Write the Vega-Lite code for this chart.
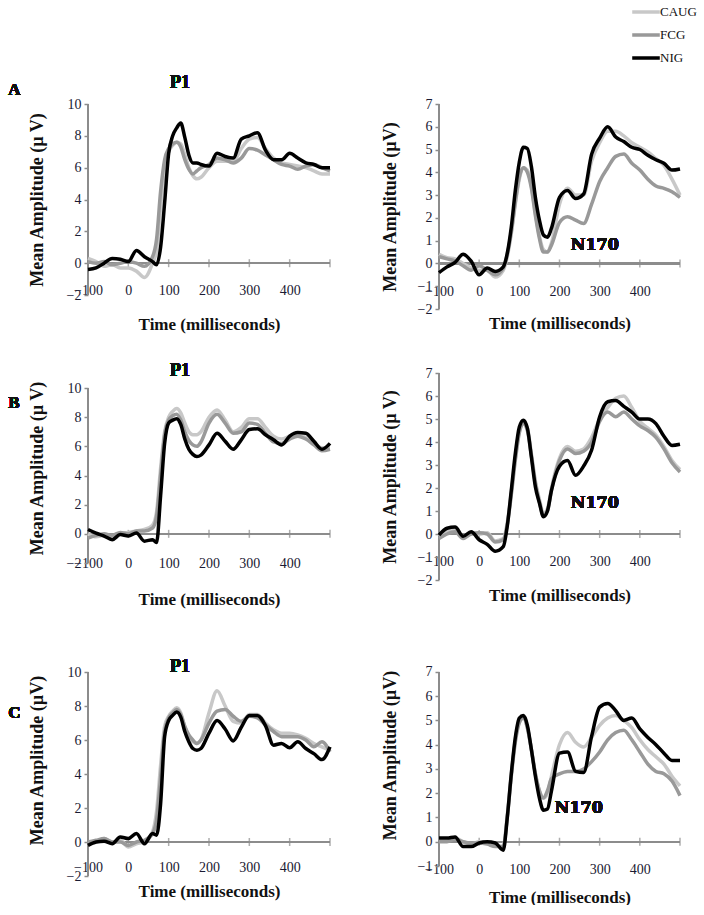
{
  "$schema": "https://vega.github.io/schema/vega-lite/v6.json",
  "background": "white",
  "padding": {"left": 8, "top": -4, "right": 0, "bottom": 0},
  "config": {
    "view": {"stroke": null},
    "font": "Liberation Serif",
    "axis": {"grid": false, "labelOverlap": false, "labelFont": "Liberation Serif", "labelFontSize": 14, "labelColor": "#1a1a33", "titleFont": "Liberation Serif", "titleFontWeight": "bold", "titleColor": "#111", "domainColor": "#8c8c8c", "domainWidth": 1.5, "tickColor": "#8c8c8c", "tickWidth": 1.5},
    "axisX": {"domain": false, "ticks": false, "labelFlush": false, "titleFontSize": 17},
    "axisY": {"domain": false, "tickSize": 4, "labelPadding": 3, "titleFontSize": 18},
    "text": {"font": "Liberation Serif", "fontWeight": "bold", "fill": "#111"},
    "rule": {"color": "#8c8c8c", "strokeWidth": 1.5},
    "line": {"interpolate": "monotone"},
    "tick": {"color": "#8c8c8c", "thickness": 1.5, "size": 8, "orient": "vertical"}
  },
  "datasets": {
    "aL": [
      {"t": -100, "CAUG": 0.3, "FCG": 0.1, "NIG": -0.4},
      {"t": -80, "CAUG": 0.1, "FCG": 0.0, "NIG": -0.3},
      {"t": -60, "CAUG": -0.2, "FCG": 0.1, "NIG": 0.0},
      {"t": -40, "CAUG": -0.1, "FCG": -0.1, "NIG": 0.3},
      {"t": -20, "CAUG": -0.3, "FCG": 0.0, "NIG": 0.25},
      {"t": 0, "CAUG": -0.3, "FCG": 0.1, "NIG": 0.1},
      {"t": 20, "CAUG": -0.5, "FCG": 0.0, "NIG": 0.8},
      {"t": 40, "CAUG": -0.9, "FCG": -0.2, "NIG": 0.4},
      {"t": 60, "CAUG": 0.0, "FCG": 0.4, "NIG": 0.1},
      {"t": 70, "CAUG": 0.8, "FCG": 1.5, "NIG": -0.1},
      {"t": 80, "CAUG": 3.5, "FCG": 4.5, "NIG": 1.0},
      {"t": 90, "CAUG": 6.0, "FCG": 6.5, "NIG": 3.8},
      {"t": 100, "CAUG": 7.0, "FCG": 7.2, "NIG": 6.9},
      {"t": 110, "CAUG": 7.4, "FCG": 7.5, "NIG": 8.0},
      {"t": 120, "CAUG": 7.6, "FCG": 7.6, "NIG": 8.5},
      {"t": 130, "CAUG": 7.5, "FCG": 7.3, "NIG": 8.8},
      {"t": 140, "CAUG": 6.8, "FCG": 6.5, "NIG": 7.9},
      {"t": 150, "CAUG": 6.0, "FCG": 5.9, "NIG": 6.8},
      {"t": 160, "CAUG": 5.5, "FCG": 5.6, "NIG": 6.3},
      {"t": 170, "CAUG": 5.3, "FCG": 5.8, "NIG": 6.3},
      {"t": 180, "CAUG": 5.4, "FCG": 6.0, "NIG": 6.2},
      {"t": 200, "CAUG": 6.0, "FCG": 6.2, "NIG": 6.1},
      {"t": 220, "CAUG": 6.4, "FCG": 6.6, "NIG": 6.9},
      {"t": 240, "CAUG": 6.4, "FCG": 6.5, "NIG": 6.7},
      {"t": 260, "CAUG": 6.4, "FCG": 6.3, "NIG": 6.6},
      {"t": 280, "CAUG": 7.2, "FCG": 6.6, "NIG": 7.8},
      {"t": 300, "CAUG": 7.8, "FCG": 7.2, "NIG": 8.0},
      {"t": 320, "CAUG": 7.9, "FCG": 7.1, "NIG": 8.2},
      {"t": 340, "CAUG": 7.2, "FCG": 6.8, "NIG": 7.1},
      {"t": 360, "CAUG": 6.6, "FCG": 6.5, "NIG": 6.5},
      {"t": 380, "CAUG": 6.3, "FCG": 6.2, "NIG": 6.5},
      {"t": 400, "CAUG": 6.2, "FCG": 6.1, "NIG": 6.9},
      {"t": 420, "CAUG": 6.1, "FCG": 5.9, "NIG": 6.6},
      {"t": 440, "CAUG": 6.0, "FCG": 6.1, "NIG": 6.3},
      {"t": 460, "CAUG": 5.8, "FCG": 6.2, "NIG": 6.2},
      {"t": 480, "CAUG": 5.6, "FCG": 6.0, "NIG": 6.0},
      {"t": 500, "CAUG": 5.6, "FCG": 5.8, "NIG": 6.0}
    ],
    "aR": [
      {"t": -100, "CAUG": 0.4, "FCG": 0.3, "NIG": -0.4},
      {"t": -80, "CAUG": 0.25, "FCG": 0.2, "NIG": -0.15},
      {"t": -60, "CAUG": 0.2, "FCG": 0.1, "NIG": 0.05},
      {"t": -40, "CAUG": 0.0, "FCG": -0.1, "NIG": 0.4},
      {"t": -20, "CAUG": -0.2, "FCG": -0.3, "NIG": 0.1},
      {"t": 0, "CAUG": -0.3, "FCG": -0.1, "NIG": -0.5},
      {"t": 20, "CAUG": -0.3, "FCG": -0.3, "NIG": -0.2},
      {"t": 40, "CAUG": -0.6, "FCG": -0.5, "NIG": -0.35},
      {"t": 60, "CAUG": -0.3, "FCG": -0.2, "NIG": -0.15},
      {"t": 70, "CAUG": 0.3, "FCG": 0.4, "NIG": 0.45},
      {"t": 80, "CAUG": 1.3, "FCG": 1.4, "NIG": 1.6},
      {"t": 90, "CAUG": 2.6, "FCG": 2.7, "NIG": 3.2},
      {"t": 100, "CAUG": 3.7, "FCG": 3.8, "NIG": 4.45},
      {"t": 110, "CAUG": 4.2, "FCG": 4.2, "NIG": 5.1},
      {"t": 120, "CAUG": 4.1, "FCG": 4.0, "NIG": 5.05},
      {"t": 130, "CAUG": 3.4, "FCG": 3.3, "NIG": 4.25},
      {"t": 140, "CAUG": 2.2, "FCG": 2.1, "NIG": 2.9},
      {"t": 150, "CAUG": 1.2, "FCG": 1.1, "NIG": 1.9},
      {"t": 160, "CAUG": 0.6, "FCG": 0.5, "NIG": 1.25},
      {"t": 170, "CAUG": 0.5, "FCG": 0.5, "NIG": 1.15},
      {"t": 180, "CAUG": 0.9, "FCG": 0.8, "NIG": 1.55},
      {"t": 200, "CAUG": 2.6, "FCG": 1.8, "NIG": 2.9},
      {"t": 220, "CAUG": 3.3, "FCG": 2.05, "NIG": 3.2},
      {"t": 240, "CAUG": 3.0, "FCG": 1.9, "NIG": 2.85},
      {"t": 260, "CAUG": 3.0, "FCG": 1.75, "NIG": 3.05},
      {"t": 280, "CAUG": 4.5, "FCG": 2.6, "NIG": 4.8},
      {"t": 300, "CAUG": 5.3, "FCG": 3.6, "NIG": 5.5},
      {"t": 320, "CAUG": 5.8, "FCG": 4.2, "NIG": 6.0},
      {"t": 340, "CAUG": 5.8, "FCG": 4.7, "NIG": 5.55},
      {"t": 360, "CAUG": 5.6, "FCG": 4.8, "NIG": 5.35},
      {"t": 380, "CAUG": 5.3, "FCG": 4.4, "NIG": 5.1},
      {"t": 400, "CAUG": 5.1, "FCG": 4.1, "NIG": 5.0},
      {"t": 420, "CAUG": 4.9, "FCG": 3.7, "NIG": 4.75},
      {"t": 440, "CAUG": 4.6, "FCG": 3.4, "NIG": 4.55},
      {"t": 460, "CAUG": 4.3, "FCG": 3.3, "NIG": 4.4},
      {"t": 480, "CAUG": 3.7, "FCG": 3.15, "NIG": 4.1},
      {"t": 500, "CAUG": 3.0, "FCG": 2.9, "NIG": 4.15}
    ],
    "bL": [
      {"t": -100, "CAUG": 0.0, "FCG": -0.3, "NIG": 0.3},
      {"t": -80, "CAUG": -0.2, "FCG": -0.1, "NIG": 0.05},
      {"t": -60, "CAUG": -0.1, "FCG": 0.0, "NIG": -0.15},
      {"t": -40, "CAUG": -0.2, "FCG": -0.1, "NIG": -0.4},
      {"t": -20, "CAUG": 0.0, "FCG": 0.1, "NIG": -0.05},
      {"t": 0, "CAUG": 0.1, "FCG": 0.0, "NIG": -0.15},
      {"t": 20, "CAUG": 0.2, "FCG": 0.2, "NIG": 0.05},
      {"t": 40, "CAUG": 0.3, "FCG": 0.2, "NIG": -0.5},
      {"t": 60, "CAUG": 0.6, "FCG": 0.4, "NIG": -0.4},
      {"t": 70, "CAUG": 1.5, "FCG": 1.2, "NIG": -0.6},
      {"t": 80, "CAUG": 4.5, "FCG": 4.0, "NIG": 2.6},
      {"t": 90, "CAUG": 7.0, "FCG": 6.8, "NIG": 6.2},
      {"t": 100, "CAUG": 8.0, "FCG": 7.8, "NIG": 7.6},
      {"t": 110, "CAUG": 8.4, "FCG": 8.1, "NIG": 7.8},
      {"t": 120, "CAUG": 8.6, "FCG": 8.2, "NIG": 7.9},
      {"t": 130, "CAUG": 8.3, "FCG": 7.8, "NIG": 7.5},
      {"t": 140, "CAUG": 7.6, "FCG": 7.0, "NIG": 6.5},
      {"t": 150, "CAUG": 7.0, "FCG": 6.4, "NIG": 5.8},
      {"t": 160, "CAUG": 6.8, "FCG": 6.1, "NIG": 5.45},
      {"t": 170, "CAUG": 6.8, "FCG": 6.0, "NIG": 5.3},
      {"t": 180, "CAUG": 7.0, "FCG": 6.3, "NIG": 5.4},
      {"t": 200, "CAUG": 8.0, "FCG": 7.6, "NIG": 6.1},
      {"t": 220, "CAUG": 8.5, "FCG": 8.2, "NIG": 6.9},
      {"t": 240, "CAUG": 7.8, "FCG": 7.6, "NIG": 6.35},
      {"t": 260, "CAUG": 7.0, "FCG": 6.9, "NIG": 5.8},
      {"t": 280, "CAUG": 7.3, "FCG": 7.0, "NIG": 6.45},
      {"t": 300, "CAUG": 7.9, "FCG": 7.6, "NIG": 7.15},
      {"t": 320, "CAUG": 7.9, "FCG": 7.5, "NIG": 7.2},
      {"t": 340, "CAUG": 7.3, "FCG": 6.9, "NIG": 6.8},
      {"t": 360, "CAUG": 6.7, "FCG": 6.3, "NIG": 6.45},
      {"t": 380, "CAUG": 6.5, "FCG": 6.2, "NIG": 6.1},
      {"t": 400, "CAUG": 6.7, "FCG": 6.5, "NIG": 6.7},
      {"t": 420, "CAUG": 6.8, "FCG": 6.7, "NIG": 6.95},
      {"t": 440, "CAUG": 6.6, "FCG": 6.5, "NIG": 6.9},
      {"t": 460, "CAUG": 6.2, "FCG": 6.1, "NIG": 6.35},
      {"t": 480, "CAUG": 5.9, "FCG": 5.7, "NIG": 5.8},
      {"t": 500, "CAUG": 5.9, "FCG": 5.8, "NIG": 6.2}
    ],
    "bR": [
      {"t": -100, "CAUG": -0.1, "FCG": -0.2, "NIG": -0.05},
      {"t": -80, "CAUG": 0.1, "FCG": 0.0, "NIG": 0.25},
      {"t": -60, "CAUG": 0.2, "FCG": 0.1, "NIG": 0.3},
      {"t": -40, "CAUG": -0.1, "FCG": -0.2, "NIG": -0.1},
      {"t": -20, "CAUG": 0.0, "FCG": 0.0, "NIG": 0.1},
      {"t": 0, "CAUG": 0.0, "FCG": 0.05, "NIG": -0.25},
      {"t": 20, "CAUG": 0.05, "FCG": 0.0, "NIG": -0.45},
      {"t": 40, "CAUG": -0.3, "FCG": -0.35, "NIG": -0.75},
      {"t": 60, "CAUG": -0.2, "FCG": -0.25, "NIG": -0.55},
      {"t": 70, "CAUG": 0.5, "FCG": 0.4, "NIG": 0.35},
      {"t": 80, "CAUG": 1.8, "FCG": 1.7, "NIG": 1.9},
      {"t": 90, "CAUG": 3.3, "FCG": 3.2, "NIG": 3.5},
      {"t": 100, "CAUG": 4.5, "FCG": 4.4, "NIG": 4.65},
      {"t": 110, "CAUG": 4.85, "FCG": 4.8, "NIG": 4.95},
      {"t": 120, "CAUG": 4.6, "FCG": 4.5, "NIG": 4.6},
      {"t": 130, "CAUG": 3.5, "FCG": 3.4, "NIG": 3.35},
      {"t": 140, "CAUG": 2.3, "FCG": 2.2, "NIG": 2.05},
      {"t": 150, "CAUG": 1.5, "FCG": 1.4, "NIG": 1.35},
      {"t": 160, "CAUG": 0.9, "FCG": 0.8, "NIG": 0.75},
      {"t": 170, "CAUG": 1.1, "FCG": 1.0, "NIG": 1.0},
      {"t": 180, "CAUG": 2.0, "FCG": 1.9, "NIG": 1.9},
      {"t": 200, "CAUG": 3.3, "FCG": 3.2, "NIG": 2.95},
      {"t": 220, "CAUG": 3.8, "FCG": 3.7, "NIG": 3.2},
      {"t": 240, "CAUG": 3.6, "FCG": 3.5, "NIG": 2.55},
      {"t": 260, "CAUG": 3.7, "FCG": 3.6, "NIG": 2.95},
      {"t": 280, "CAUG": 4.2, "FCG": 4.0, "NIG": 3.65},
      {"t": 300, "CAUG": 5.0, "FCG": 4.9, "NIG": 5.1},
      {"t": 320, "CAUG": 5.5, "FCG": 5.3, "NIG": 5.75},
      {"t": 340, "CAUG": 5.9, "FCG": 5.1, "NIG": 5.8},
      {"t": 360, "CAUG": 6.0, "FCG": 5.3, "NIG": 5.55},
      {"t": 380, "CAUG": 5.5, "FCG": 5.0, "NIG": 5.3},
      {"t": 400, "CAUG": 4.9, "FCG": 4.7, "NIG": 5.0},
      {"t": 420, "CAUG": 4.6, "FCG": 4.5, "NIG": 5.0},
      {"t": 440, "CAUG": 4.3, "FCG": 4.2, "NIG": 4.8},
      {"t": 460, "CAUG": 3.8, "FCG": 3.7, "NIG": 4.25},
      {"t": 480, "CAUG": 3.2, "FCG": 3.1, "NIG": 3.85},
      {"t": 500, "CAUG": 2.8, "FCG": 2.7, "NIG": 3.9}
    ],
    "cL": [
      {"t": -100, "CAUG": -0.1, "FCG": 0.0, "NIG": -0.2},
      {"t": -80, "CAUG": 0.0, "FCG": 0.1, "NIG": 0.0},
      {"t": -60, "CAUG": 0.2, "FCG": 0.2, "NIG": 0.05},
      {"t": -40, "CAUG": 0.0, "FCG": 0.0, "NIG": -0.1},
      {"t": -20, "CAUG": 0.1, "FCG": 0.0, "NIG": 0.3},
      {"t": 0, "CAUG": -0.3, "FCG": -0.2, "NIG": 0.2},
      {"t": 20, "CAUG": -0.1, "FCG": 0.0, "NIG": 0.5},
      {"t": 40, "CAUG": 0.0, "FCG": 0.1, "NIG": -0.1},
      {"t": 60, "CAUG": 0.6, "FCG": 0.5, "NIG": 0.5},
      {"t": 70, "CAUG": 1.8, "FCG": 1.3, "NIG": 0.4},
      {"t": 80, "CAUG": 4.5, "FCG": 3.8, "NIG": 2.25},
      {"t": 90, "CAUG": 6.8, "FCG": 6.5, "NIG": 6.2},
      {"t": 100, "CAUG": 7.4, "FCG": 7.3, "NIG": 7.15},
      {"t": 110, "CAUG": 7.7, "FCG": 7.6, "NIG": 7.45},
      {"t": 120, "CAUG": 7.9, "FCG": 7.8, "NIG": 7.65},
      {"t": 130, "CAUG": 7.6, "FCG": 7.5, "NIG": 7.35},
      {"t": 140, "CAUG": 6.8, "FCG": 6.8, "NIG": 6.5},
      {"t": 150, "CAUG": 6.2, "FCG": 6.3, "NIG": 5.9},
      {"t": 160, "CAUG": 5.9, "FCG": 6.0, "NIG": 5.5},
      {"t": 170, "CAUG": 5.8, "FCG": 5.8, "NIG": 5.4},
      {"t": 180, "CAUG": 6.0, "FCG": 6.0, "NIG": 5.5},
      {"t": 200, "CAUG": 7.6, "FCG": 7.0, "NIG": 6.4},
      {"t": 220, "CAUG": 8.9, "FCG": 7.7, "NIG": 7.15},
      {"t": 240, "CAUG": 8.0, "FCG": 7.8, "NIG": 6.65},
      {"t": 260, "CAUG": 7.1, "FCG": 7.4, "NIG": 5.95},
      {"t": 280, "CAUG": 7.0, "FCG": 7.1, "NIG": 6.75},
      {"t": 300, "CAUG": 7.5, "FCG": 7.4, "NIG": 7.45},
      {"t": 320, "CAUG": 7.5, "FCG": 7.3, "NIG": 7.45},
      {"t": 340, "CAUG": 7.0, "FCG": 6.9, "NIG": 6.85},
      {"t": 360, "CAUG": 6.6, "FCG": 6.5, "NIG": 5.7},
      {"t": 380, "CAUG": 6.4, "FCG": 6.2, "NIG": 5.8},
      {"t": 400, "CAUG": 6.4, "FCG": 6.2, "NIG": 5.55},
      {"t": 420, "CAUG": 6.3, "FCG": 6.2, "NIG": 5.9},
      {"t": 440, "CAUG": 6.1, "FCG": 6.0, "NIG": 5.5},
      {"t": 460, "CAUG": 5.8, "FCG": 5.6, "NIG": 5.2},
      {"t": 480, "CAUG": 5.6, "FCG": 5.9, "NIG": 4.85},
      {"t": 500, "CAUG": 5.4, "FCG": 5.3, "NIG": 5.6}
    ],
    "cR": [
      {"t": -100, "CAUG": 0.1, "FCG": 0.0, "NIG": 0.15},
      {"t": -80, "CAUG": 0.1, "FCG": 0.0, "NIG": 0.15},
      {"t": -60, "CAUG": 0.15, "FCG": 0.1, "NIG": 0.2},
      {"t": -40, "CAUG": 0.0, "FCG": 0.0, "NIG": -0.2},
      {"t": -20, "CAUG": -0.1, "FCG": -0.05, "NIG": -0.2},
      {"t": 0, "CAUG": 0.0, "FCG": -0.05, "NIG": -0.05},
      {"t": 20, "CAUG": -0.05, "FCG": -0.1, "NIG": 0.0},
      {"t": 40, "CAUG": -0.15, "FCG": -0.2, "NIG": -0.05},
      {"t": 60, "CAUG": -0.2, "FCG": -0.2, "NIG": -0.35},
      {"t": 70, "CAUG": 1.1, "FCG": 1.0, "NIG": 1.0},
      {"t": 80, "CAUG": 2.8, "FCG": 2.7, "NIG": 2.8},
      {"t": 90, "CAUG": 4.2, "FCG": 4.1, "NIG": 4.3},
      {"t": 100, "CAUG": 5.0, "FCG": 4.9, "NIG": 5.1},
      {"t": 110, "CAUG": 5.1, "FCG": 5.1, "NIG": 5.2},
      {"t": 120, "CAUG": 4.7, "FCG": 4.7, "NIG": 4.8},
      {"t": 130, "CAUG": 3.8, "FCG": 3.8, "NIG": 3.8},
      {"t": 140, "CAUG": 2.8, "FCG": 2.8, "NIG": 2.7},
      {"t": 150, "CAUG": 2.1, "FCG": 2.1, "NIG": 1.8},
      {"t": 160, "CAUG": 1.8, "FCG": 1.8, "NIG": 1.3},
      {"t": 170, "CAUG": 2.0, "FCG": 2.1, "NIG": 1.35},
      {"t": 180, "CAUG": 2.7, "FCG": 2.6, "NIG": 2.1},
      {"t": 200, "CAUG": 4.0, "FCG": 2.8, "NIG": 3.65},
      {"t": 220, "CAUG": 4.5, "FCG": 2.9, "NIG": 3.7},
      {"t": 240, "CAUG": 4.1, "FCG": 2.9, "NIG": 2.9},
      {"t": 260, "CAUG": 3.9, "FCG": 3.0, "NIG": 2.85},
      {"t": 280, "CAUG": 4.3, "FCG": 3.3, "NIG": 4.35},
      {"t": 300, "CAUG": 4.8, "FCG": 3.7, "NIG": 5.55},
      {"t": 320, "CAUG": 5.1, "FCG": 4.2, "NIG": 5.7},
      {"t": 340, "CAUG": 5.2, "FCG": 4.5, "NIG": 5.4},
      {"t": 360, "CAUG": 5.0, "FCG": 4.6, "NIG": 5.0},
      {"t": 380, "CAUG": 4.7, "FCG": 4.2, "NIG": 5.1},
      {"t": 400, "CAUG": 4.2, "FCG": 3.7, "NIG": 4.65},
      {"t": 420, "CAUG": 3.8, "FCG": 3.2, "NIG": 4.3},
      {"t": 440, "CAUG": 3.5, "FCG": 2.9, "NIG": 4.0},
      {"t": 460, "CAUG": 3.2, "FCG": 2.8, "NIG": 3.65},
      {"t": 480, "CAUG": 2.7, "FCG": 2.5, "NIG": 3.35},
      {"t": 500, "CAUG": 2.3, "FCG": 1.9, "NIG": 3.35}
    ]
  },
  "concat": [
    {
      "width": 242, "height": 191,
      "data": {"name": "aL"},
      "layer": [
        {"mark": "rule", "encoding": {"y": {"datum": 0}}},
        {"mark": "rule", "encoding": {"x": {"datum": -100}, "y": {"datum": -2}, "y2": {"datum": 10}}},
        {"transform": [{"filter": "datum.t % 100 == 0"}], "mark": "tick", "encoding": {"x": {"field": "t", "type": "quantitative"}, "y": {"datum": 0}}},
        {"transform": [{"fold": ["CAUG", "FCG", "NIG"], "as": ["group", "amp"]}],
         "mark": "line",
         "encoding": {
           "x": {"field": "t", "type": "quantitative", "scale": {"domain": [-100, 500], "nice": false}, "axis": {"values": [-100, 0, 100, 200, 300, 400], "tickCount": 20, "format": "d", "title": "Time (milliseconds)", "labelPadding": -12, "titlePadding": 19}},
           "y": {"field": "amp", "type": "quantitative", "scale": {"domain": [-2, 10], "nice": false, "zero": false}, "axis": {"values": [-2, 0, 2, 4, 6, 8, 10], "tickCount": 20, "format": "d", "title": "Mean Amplitude (µ V)", "titlePadding": 20}},
           "color": {"field": "group", "type": "nominal", "scale": {"domain": ["CAUG", "FCG", "NIG"], "range": ["#c8c8c8", "#999999", "#000000"]}, "legend": null},
           "strokeWidth": {"field": "group", "type": "nominal", "scale": {"domain": ["CAUG", "FCG", "NIG"], "range": [3.5, 3.5, 4.3]}, "legend": null}
         }},
        {"mark": {"type": "text", "fontSize": 18}, "encoding": {"x": {"datum": 128}, "y": {"datum": 11.32}, "text": {"value": "P1"}}},
        {"mark": {"type": "text", "fontSize": 17, "align": "left"}, "encoding": {"x": {"datum": -298}, "y": {"datum": 10.88}, "text": {"value": "A"}}}
      ]
    },
    {
      "width": 241, "height": 205,
      "data": {"name": "aR"},
      "layer": [
        {"mark": "rule", "encoding": {"y": {"datum": 0}}},
        {"mark": "rule", "encoding": {"x": {"datum": -100}, "y": {"datum": -2}, "y2": {"datum": 7}}},
        {"transform": [{"filter": "datum.t % 100 == 0"}], "mark": "tick", "encoding": {"x": {"field": "t", "type": "quantitative"}, "y": {"datum": 0}}},
        {"transform": [{"fold": ["CAUG", "FCG", "NIG"], "as": ["group", "amp"]}],
         "mark": "line",
         "encoding": {
           "x": {"field": "t", "type": "quantitative", "scale": {"domain": [-100, 500], "nice": false}, "axis": {"values": [-100, 0, 100, 200, 300, 400], "tickCount": 20, "format": "d", "title": "Time (milliseconds)", "labelPadding": -25, "titlePadding": 6}},
           "y": {"field": "amp", "type": "quantitative", "scale": {"domain": [-2, 7], "nice": false, "zero": false}, "axis": {"values": [-2, -1, 0, 1, 2, 3, 4, 5, 6, 7], "tickCount": 20, "format": "d", "title": "Mean Amplitude (µV)", "titlePadding": 18}},
           "color": {"field": "group", "type": "nominal", "scale": {"domain": ["CAUG", "FCG", "NIG"], "range": ["#c8c8c8", "#999999", "#000000"]},
             "legend": {"orient": "none", "legendX": 191, "legendY": -108, "title": null, "symbolType": "stroke", "symbolSize": 760, "symbolStrokeWidth": 3, "labelFont": "Liberation Serif", "labelFontSize": 13, "labelColor": "#111", "rowPadding": 0, "labelOffset": -2}},
           "strokeWidth": {"field": "group", "type": "nominal", "scale": {"domain": ["CAUG", "FCG", "NIG"], "range": [3.5, 3.5, 4.3]}, "legend": null}
         }},
        {"mark": {"type": "text", "font": "DejaVu Serif", "fontSize": 16}, "encoding": {"x": {"datum": 288}, "y": {"datum": 0.81}, "text": {"value": "N170"}}}
      ]
    },
    {
      "width": 242, "height": 190,
      "data": {"name": "bL"},
      "layer": [
        {"mark": "rule", "encoding": {"y": {"datum": 0}}},
        {"mark": "rule", "encoding": {"x": {"datum": -100}, "y": {"datum": -2}, "y2": {"datum": 10}}},
        {"transform": [{"filter": "datum.t % 100 == 0"}], "mark": "tick", "encoding": {"x": {"field": "t", "type": "quantitative"}, "y": {"datum": 0}}},
        {"transform": [{"fold": ["CAUG", "FCG", "NIG"], "as": ["group", "amp"]}],
         "mark": "line",
         "encoding": {
           "x": {"field": "t", "type": "quantitative", "scale": {"domain": [-100, 500], "nice": false}, "axis": {"values": [-100, 0, 100, 200, 300, 400], "tickCount": 20, "format": "d", "title": "Time (milliseconds)", "labelPadding": -7, "titlePadding": 21}},
           "y": {"field": "amp", "type": "quantitative", "scale": {"domain": [-2, 11.03], "nice": false, "zero": false}, "axis": {"values": [-2, 0, 2, 4, 6, 8, 10], "tickCount": 20, "format": "d", "title": "Mean Amplitude (µ V)", "titlePadding": 20}},
           "color": {"field": "group", "type": "nominal", "scale": {"domain": ["CAUG", "FCG", "NIG"], "range": ["#c8c8c8", "#999999", "#000000"]}, "legend": null},
           "strokeWidth": {"field": "group", "type": "nominal", "scale": {"domain": ["CAUG", "FCG", "NIG"], "range": [3.5, 3.5, 4.3]}, "legend": null}
         }},
        {"mark": {"type": "text", "fontSize": 18}, "encoding": {"x": {"datum": 128}, "y": {"datum": 11.17}, "text": {"value": "P1"}}},
        {"mark": {"type": "text", "fontSize": 17, "align": "left"}, "encoding": {"x": {"datum": -298}, "y": {"datum": 8.97}, "text": {"value": "B"}}}
      ]
    },
    {
      "width": 241, "height": 207,
      "data": {"name": "bR"},
      "layer": [
        {"mark": "rule", "encoding": {"y": {"datum": 0}}},
        {"mark": "rule", "encoding": {"x": {"datum": -100}, "y": {"datum": -2}, "y2": {"datum": 7}}},
        {"transform": [{"filter": "datum.t % 100 == 0"}], "mark": "tick", "encoding": {"x": {"field": "t", "type": "quantitative"}, "y": {"datum": 0}}},
        {"transform": [{"fold": ["CAUG", "FCG", "NIG"], "as": ["group", "amp"]}],
         "mark": "line",
         "encoding": {
           "x": {"field": "t", "type": "quantitative", "scale": {"domain": [-100, 500], "nice": false}, "axis": {"values": [-100, 0, 100, 200, 300, 400], "tickCount": 20, "format": "d", "title": "Time (milliseconds)", "labelPadding": -26, "titlePadding": 7}},
           "y": {"field": "amp", "type": "quantitative", "scale": {"domain": [-2, 7], "nice": false, "zero": false}, "axis": {"values": [-2, -1, 0, 1, 2, 3, 4, 5, 6, 7], "tickCount": 20, "format": "d", "title": "Mean Amplitude (µ V)", "titlePadding": 18}},
           "color": {"field": "group", "type": "nominal", "scale": {"domain": ["CAUG", "FCG", "NIG"], "range": ["#c8c8c8", "#999999", "#000000"]}, "legend": null},
           "strokeWidth": {"field": "group", "type": "nominal", "scale": {"domain": ["CAUG", "FCG", "NIG"], "range": [3.5, 3.5, 4.3]}, "legend": null}
         }},
        {"mark": {"type": "text", "font": "DejaVu Serif", "fontSize": 16}, "encoding": {"x": {"datum": 288}, "y": {"datum": 1.35}, "text": {"value": "N170"}}}
      ]
    },
    {
      "width": 242, "height": 232,
      "data": {"name": "cL"},
      "layer": [
        {"mark": "rule", "encoding": {"y": {"datum": 0}}},
        {"mark": "rule", "encoding": {"x": {"datum": -100}, "y": {"datum": -2}, "y2": {"datum": 10}}},
        {"transform": [{"filter": "datum.t % 100 == 0"}], "mark": "tick", "encoding": {"x": {"field": "t", "type": "quantitative"}, "y": {"datum": 0}}},
        {"transform": [{"fold": ["CAUG", "FCG", "NIG"], "as": ["group", "amp"]}],
         "mark": "line",
         "encoding": {
           "x": {"field": "t", "type": "quantitative", "scale": {"domain": [-100, 500], "nice": false}, "axis": {"values": [-100, 0, 100, 200, 300, 400], "tickCount": 20, "format": "d", "title": "Time (milliseconds)", "labelPadding": -16, "titlePadding": 7}},
           "y": {"field": "amp", "type": "quantitative", "scale": {"domain": [-2, 11.65], "nice": false, "zero": false}, "axis": {"values": [-2, 0, 2, 4, 6, 8, 10], "tickCount": 20, "format": "d", "title": "Mean Amplitude (µV)", "titlePadding": 20}},
           "color": {"field": "group", "type": "nominal", "scale": {"domain": ["CAUG", "FCG", "NIG"], "range": ["#c8c8c8", "#999999", "#000000"]}, "legend": null},
           "strokeWidth": {"field": "group", "type": "nominal", "scale": {"domain": ["CAUG", "FCG", "NIG"], "range": [3.5, 3.5, 4.3]}, "legend": null}
         }},
        {"mark": {"type": "text", "fontSize": 18}, "encoding": {"x": {"datum": 128}, "y": {"datum": 10.3}, "text": {"value": "P1"}}},
        {"mark": {"type": "text", "fontSize": 17, "align": "left"}, "encoding": {"x": {"datum": -298}, "y": {"datum": 7.59}, "text": {"value": "C"}}}
      ]
    },
    {
      "width": 241, "height": 222,
      "data": {"name": "cR"},
      "layer": [
        {"mark": "rule", "encoding": {"y": {"datum": 0}}},
        {"mark": "rule", "encoding": {"x": {"datum": -100}, "y": {"datum": -1}, "y2": {"datum": 7}}},
        {"transform": [{"filter": "datum.t % 100 == 0"}], "mark": "tick", "encoding": {"x": {"field": "t", "type": "quantitative"}, "y": {"datum": 0}}},
        {"transform": [{"fold": ["CAUG", "FCG", "NIG"], "as": ["group", "amp"]}],
         "mark": "line",
         "encoding": {
           "x": {"field": "t", "type": "quantitative", "scale": {"domain": [-100, 500], "nice": false}, "axis": {"values": [-100, 0, 100, 200, 300, 400], "tickCount": 20, "format": "d", "title": "Time (milliseconds)", "labelPadding": -4, "titlePadding": 13}},
           "y": {"field": "amp", "type": "quantitative", "scale": {"domain": [-1, 8.15], "nice": false, "zero": false}, "axis": {"values": [-1, 0, 1, 2, 3, 4, 5, 6, 7], "tickCount": 20, "format": "d", "title": "Mean Amplitude (µV)", "titlePadding": 18}},
           "color": {"field": "group", "type": "nominal", "scale": {"domain": ["CAUG", "FCG", "NIG"], "range": ["#c8c8c8", "#999999", "#000000"]}, "legend": null},
           "strokeWidth": {"field": "group", "type": "nominal", "scale": {"domain": ["CAUG", "FCG", "NIG"], "range": [3.5, 3.5, 4.3]}, "legend": null}
         }},
        {"mark": {"type": "text", "font": "DejaVu Serif", "fontSize": 16}, "encoding": {"x": {"datum": 248}, "y": {"datum": 1.39}, "text": {"value": "N170"}}}
      ]
    }
  ],
  "columns": 2,
  "spacing": {"row": 64, "column": 109},
  "bounds": "flush",
  "resolve": {"scale": {"color": "independent", "strokeWidth": "independent"}, "legend": {"color": "independent", "strokeWidth": "independent"}}
}
